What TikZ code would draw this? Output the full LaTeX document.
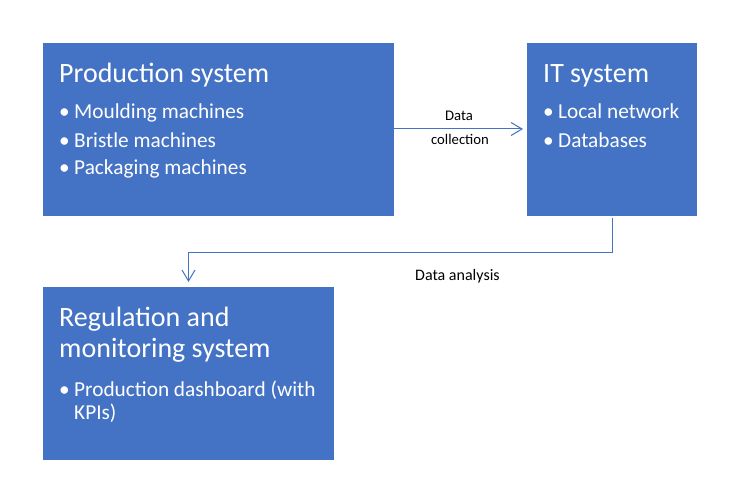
\documentclass[tikz,border=0pt]{standalone}
\usepackage{fontspec}
\setmainfont{Carlito}
\usetikzlibrary{arrows.meta}
\definecolor{boxblue}{HTML}{4472C4}
\begin{document}
\begin{tikzpicture}[x=1pt,y=-1pt,
  box/.style={fill=boxblue, draw=none, inner sep=0pt, outer sep=0pt, anchor=north west},
  ttl/.style={anchor=base west, inner sep=0pt, text=white, font=\fontsize{28}{32}\selectfont},
  itm/.style={anchor=base west, inner sep=0pt, text=white, font=\fontsize{21.3}{26}\selectfont},
  lbl/.style={anchor=base, inner sep=0pt, text=black, font=\fontsize{14.7}{17}\selectfont},
  conn/.style={draw=boxblue, line width=1pt, -{Straight Barb[length=11pt,width=13pt]}}]
\useasboundingbox (0,0) rectangle (748,487);
\fill[white] (0,0) rectangle (748,487);
% boxes
\node[box, minimum width=351pt, minimum height=173pt] (prod) at (43,43) {};
\node[box, minimum width=170pt, minimum height=173pt] (it) at (527,43) {};
\node[box, minimum width=291pt, minimum height=173pt] (reg) at (43,287) {};
% production texts
\node[ttl] (prodt) at (59,83) {Production system};
\node[itm] (prod1) at (59,119) {\makebox[15pt][l]{•}Moulding machines};
\node[itm] (prod2) at (59,147) {\makebox[15pt][l]{•}Bristle machines};
\node[itm] (prod3) at (59,175) {\makebox[15pt][l]{•}Packaging machines};
% IT texts
\node[ttl] (itt) at (543,83) {IT system};
\node[itm] (it1) at (543,119) {\makebox[15pt][l]{•}Local network};
\node[itm] (it2) at (543,147) {\makebox[15pt][l]{•}Databases};
% regulation texts
\node[ttl] (regt1) at (59,326) {Regulation and};
\node[ttl] (regt2) at (59,357) {monitoring system};
\node[itm] (reg1) at (59,396) {\makebox[15pt][l]{•}Production dashboard (with};
\node[itm] (reg2) at (74,419) {KPIs)};
% connectors
\draw[conn, shorten >=4pt] (prod.east |- 0,129) -- (it.west |- 0,129);
\draw[conn, shorten >=5pt, shorten <=2pt] (it.south) -- ++(0,36) -| (reg.north);
% labels
\node[lbl] (l1a) at (459,121) {Data};
\node[lbl] (l1b) at (460,144) {collection};
\node[lbl, anchor=base west, font=\fontsize{16}{19}\selectfont] (l2) at (415,280) {Data analysis};
\end{tikzpicture}
\end{document}
